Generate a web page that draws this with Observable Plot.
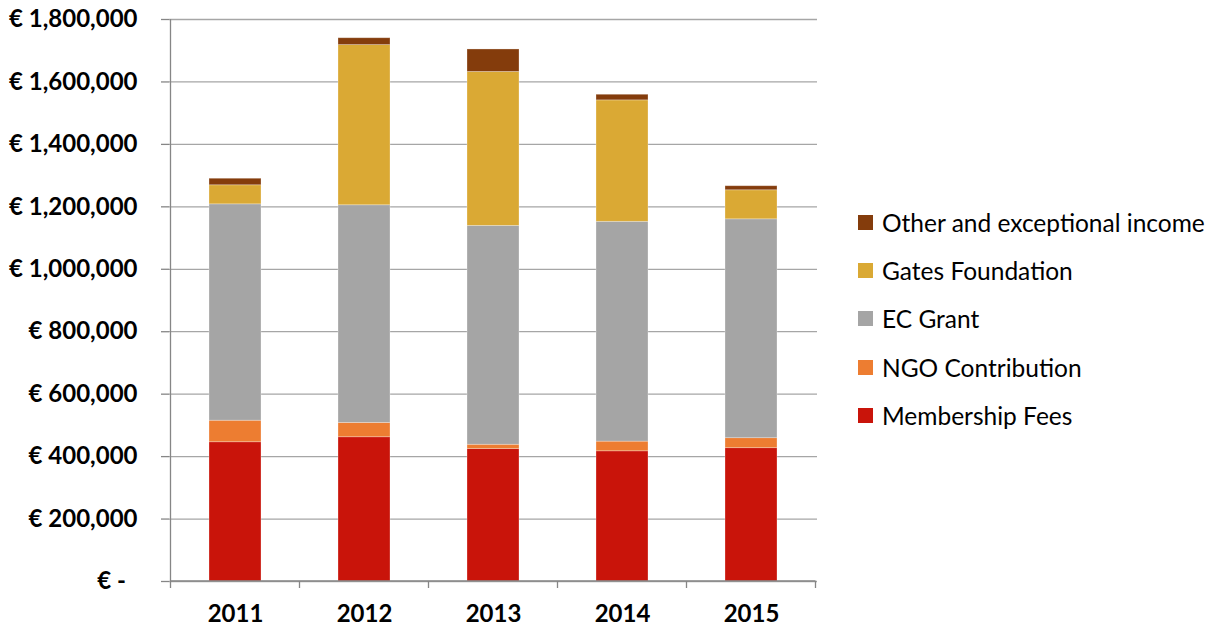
<!DOCTYPE html>
<html>
<head>
<meta charset="utf-8">
<script src="https://cdn.jsdelivr.net/npm/d3@7"></script>
<script src="https://cdn.jsdelivr.net/npm/@observablehq/plot@0.6"></script>
<style>
  html, body { margin: 0; padding: 0; background: #fff; }
  #wrap { position: relative; width: 1214px; height: 629px; overflow: hidden; font-family: Lato, "Open Sans", sans-serif; }
  #legend { position: absolute; left: 858px; top: 198px; }
  .row { display: flex; align-items: center; height: 48.3px; font-size: 24.5px; color: #000; white-space: nowrap; }
  .sw { width: 15px; height: 15px; margin-right: 9px; flex: none; }
</style>
</head>
<body>
<div id="wrap"><div id="chart"></div><div id="legend"></div></div>
<script>
const years = ["2011", "2012", "2013", "2014", "2015"];
const membershipFees = [446000, 462000, 424000, 417000, 427000];
const ngoContribution = [69000, 46000, 14000, 31000, 32000];
const ecGrant = [693000, 697000, 701000, 704000, 701000];
const gatesFoundation = [61000, 513000, 493000, 389000, 93000];
const otherIncome = [21000, 22000, 72000, 18000, 13000];

const seriesNames = ["Membership Fees", "NGO Contribution", "EC Grant", "Gates Foundation", "Other and exceptional income"];
const seriesValues = [membershipFees, ngoContribution, ecGrant, gatesFoundation, otherIncome];
const seriesColors = ["#c9140a", "#ed7d31", "#a5a5a5", "#daa934", "#843c0c"];
const yTicks = [0, 200000, 400000, 600000, 800000, 1000000, 1200000, 1400000, 1600000, 1800000];

const table = [];
seriesNames.forEach((s, i) => years.forEach((y, j) => table.push({year: y, series: s, value: seriesValues[i][j]})));

const fmt = d3.format(",");
const yFormat = d => d === 0 ? "€ -\u00a0\u00a0" : "€ " + fmt(d);

function axisLines(index, scales, values, dimensions) {
  const sx = scales.x, sy = scales.y;
  const bw = typeof sx.bandwidth === "function" ? sx.bandwidth() : sx.bandwidth;
  const step = typeof sx.step === "function" ? sx.step() : (sx(years[1]) - sx(years[0]));
  const g = d3.create("svg:g").attr("stroke", "#868686").attr("stroke-width", 1.3);
  const y0 = sy(0), yTop = sy(yTicks[yTicks.length - 1]);
  const left = sx(years[0]) - (step - bw) / 2;
  g.append("line").attr("x1", left).attr("x2", left).attr("y1", yTop).attr("y2", y0);
  const bounds = years.map(y => sx(y) - (step - bw) / 2);
  bounds.push(sx(years[years.length - 1]) + bw + (step - bw) / 2);
  for (const b of bounds) {
    g.append("line").attr("x1", b).attr("x2", b).attr("y1", y0).attr("y2", y0 + 7);
  }
  g.append("line").attr("x1", bounds[0]).attr("x2", bounds[bounds.length - 1]).attr("y1", y0).attr("y2", y0);
  return g.node();
}

const chart = Plot.plot({
  width: 1214,
  height: 629,
  marginLeft: 169,
  marginRight: 397,
  marginTop: 19,
  marginBottom: 48,
  style: {fontFamily: "Lato, 'Open Sans', sans-serif", fontSize: "24px", fontWeight: "bold", color: "#000", background: "#fff"},
  x: {domain: years, paddingInner: 0.6, paddingOuter: 0.3, label: null},
  y: {domain: [0, 1800000], label: null},
  color: {domain: seriesNames, range: seriesColors},
  marks: [
    Plot.gridY({ticks: yTicks, stroke: "#a6a6a6", strokeOpacity: 1, strokeWidth: 1.3}),
    Plot.barY(table, {x: "year", y: "value", fill: "series", stroke: "#ffffff", strokeOpacity: 0.35, strokeWidth: 0.8}),
    Plot.axisY({ticks: yTicks, tickFormat: yFormat, tickSize: 8, tickPadding: 24, stroke: "#868686", strokeWidth: 1.3, fill: "#000", label: null}),
    Plot.axisX({tickSize: 0, tickPadding: 23, fill: "#000", label: null}),
    axisLines
  ]
});
document.getElementById("chart").appendChild(chart);

const legend = document.getElementById("legend");
[...seriesNames].reverse().forEach((name) => {
  const i = seriesNames.indexOf(name);
  const row = document.createElement("div");
  row.className = "row";
  const sw = document.createElement("div");
  sw.className = "sw";
  sw.style.background = seriesColors[i];
  const t = document.createElement("span");
  t.textContent = name;
  row.appendChild(sw);
  row.appendChild(t);
  legend.appendChild(row);
});
</script>
</body>
</html>
